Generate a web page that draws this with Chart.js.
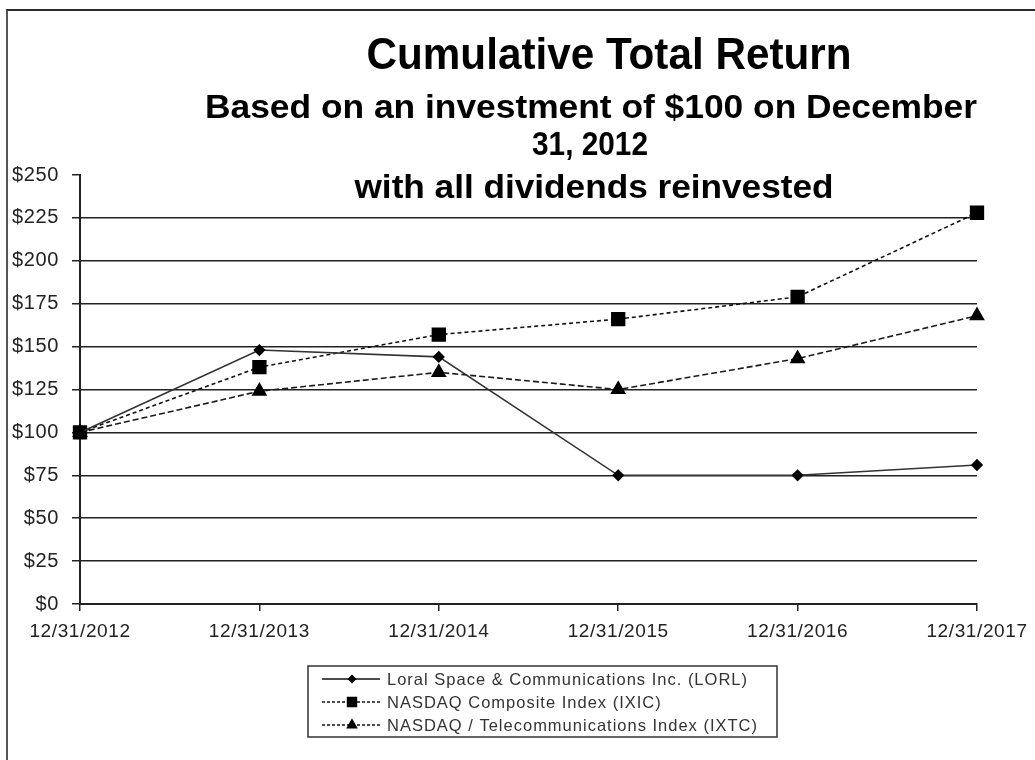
<!DOCTYPE html>
<html>
<head>
<meta charset="utf-8">
<script src="https://cdn.jsdelivr.net/npm/chart.js@4.4.1/dist/chart.umd.min.js"></script>
<style>
html, body { margin: 0; padding: 0; background: #fff; }
#wrap { position: relative; width: 1035px; height: 760px; overflow: hidden; }
#frame { position: absolute; left: 6px; top: 9px; right: -10px; bottom: -10px;
         border-top: 2px solid #2a2a2a; border-left: 2px solid #555; }
canvas { position: absolute; left: 0; top: 0; }
</style>
</head>
<body>
<div id="wrap">
  <div id="frame"></div>
  <canvas id="myChart" width="1035" height="760"></canvas>
</div>
<script>
var dates = ['12/31/2012', '12/31/2013', '12/31/2014', '12/31/2015', '12/31/2016', '12/31/2017'];
var lorl = [100, 148, 144, 75, 75, 81];
var ixic = [100, 138, 157, 166, 179, 228];
var ixtc = [100, 124, 135, 125, 143, 168];
var seriesNames = [
    'Loral Space & Communications Inc. (LORL)',
    'NASDAQ Composite Index (IXIC)',
    'NASDAQ / Telecommunications Index (IXTC)'
];
var titleLines = [
    'Cumulative Total Return',
    'Based on an investment of $100 on December',
    '31, 2012',
    'with all dividends reinvested'
];
var yMin = 0, yMax = 250, yStep = 25;

var FONT = '"Liberation Sans", Arial, sans-serif';
var ink = '#222';

// draw text centred at cx, squeezed/stretched to a target width
function fitText(ctx, text, cx, cy, size, width) {
    ctx.font = 'bold ' + size + 'px ' + FONT;
    var w = ctx.measureText(text).width;
    var sx = width ? width / w : 1;
    ctx.save();
    ctx.translate(cx, cy);
    ctx.scale(sx, 1);
    ctx.textAlign = 'center';
    ctx.textBaseline = 'middle';
    ctx.fillStyle = '#000';
    ctx.fillText(text, 0, 0);
    ctx.restore();
}

var titlePlugin = {
    id: 'titles',
    beforeDraw: function(chart) {
        chart.ctx.letterSpacing = '0.6px';
    },
    afterDraw: function(chart) {
        var ctx = chart.ctx;
        ctx.save();
        ctx.letterSpacing = '0px';
        fitText(ctx, titleLines[0], 609, 57, 45, 485);
        fitText(ctx, titleLines[1], 591, 109, 34, 772);
        fitText(ctx, titleLines[2], 590, 146, 34, 116);
        fitText(ctx, titleLines[3], 594, 189, 34, 479);
        ctx.restore();
    }
};

var boxLegend = {
    id: 'boxLegend',
    afterDraw: function(chart) {
        var ctx = chart.ctx;
        var box = { x: 308, y: 666, w: 469, h: 71 };
        ctx.save();
        ctx.letterSpacing = '1px';
        ctx.strokeStyle = '#333';
        ctx.lineWidth = 1.5;
        ctx.strokeRect(box.x, box.y, box.w, box.h);
        chart.data.datasets.forEach(function(ds, i) {
            var y = box.y + 13 + i * 23;
            ctx.save();
            ctx.strokeStyle = '#111';
            ctx.lineWidth = 1.3;
            ctx.setLineDash(ds.borderDash ? [3, 2] : []);
            ctx.beginPath();
            ctx.moveTo(box.x + 14, y);
            ctx.lineTo(box.x + 72, y);
            ctx.stroke();
            ctx.restore();
            ctx.fillStyle = '#000';
            ctx.strokeStyle = '#000';
            Chart.helpers.drawPoint(ctx, {
                pointStyle: ds.pointStyle,
                radius: ds.pointRadius * 0.7,
                borderWidth: 1,
                rotation: 0
            }, box.x + 44, y);
            ctx.fillStyle = '#333';
            ctx.font = '16.5px ' + FONT;
            ctx.textAlign = 'left';
            ctx.textBaseline = 'middle';
            ctx.fillText(ds.label, box.x + 79, y + 1);
        });
        ctx.restore();
    }
};

var config = {
    type: 'line',
    data: {
        labels: dates,
        datasets: [{
            label: seriesNames[0],
            data: lorl,
            borderColor: '#333',
            borderWidth: 1.6,
            pointStyle: 'rectRot',
            pointRadius: 5,
            pointBackgroundColor: '#000',
            pointBorderColor: '#000',
            fill: false
        }, {
            label: seriesNames[1],
            data: ixic,
            borderColor: '#111',
            borderWidth: 1.6,
            borderDash: [4, 3],
            pointStyle: 'rect',
            pointRadius: 9,
            pointBackgroundColor: '#000',
            pointBorderColor: '#000',
            fill: false
        }, {
            label: seriesNames[2],
            data: ixtc,
            borderColor: '#1a1a1a',
            borderWidth: 1.6,
            borderDash: [6, 3],
            pointStyle: 'triangle',
            pointRadius: 7.5,
            pointBackgroundColor: '#000',
            pointBorderColor: '#000',
            fill: false
        }]
    },
    options: {
        responsive: false,
        animation: false,
        devicePixelRatio: 1,
        layout: {
            padding: { left: 0, top: 175, right: 58, bottom: 116 }
        },
        scales: {
            x: {
                offset: false,
                grid: {
                    drawOnChartArea: false,
                    tickLength: 7,
                    tickColor: ink,
                    lineWidth: 1.5
                },
                border: { color: ink, width: 2 },
                ticks: {
                    color: '#222',
                    font: { family: FONT, size: 19 },
                    padding: 9,
                    maxRotation: 0,
                    autoSkip: false
                },
                afterFit: function(scale) { scale.height = 40; }
            },
            y: {
                min: yMin,
                max: yMax,
                grid: {
                    color: function(c) {
                        return c.tick && c.tick.value === yMax ? 'rgba(0,0,0,0)' : ink;
                    },
                    tickColor: ink,
                    tickLength: 8,
                    lineWidth: 1.5
                },
                border: { color: ink, width: 2 },
                ticks: {
                    stepSize: yStep,
                    color: '#222',
                    font: { family: FONT, size: 20 },
                    padding: 13,
                    callback: function(v) { return '$' + v; }
                },
                afterFit: function(scale) { scale.width = 80; }
            }
        },
        plugins: {
            legend: { display: false },
            title: { display: false },
            tooltip: { enabled: false }
        }
    },
    plugins: [titlePlugin, boxLegend]
};

window.onload = function() {
    var ctx = document.getElementById('myChart').getContext('2d');
    window.myChart = new Chart(ctx, config);
};
</script>
</body>
</html>
